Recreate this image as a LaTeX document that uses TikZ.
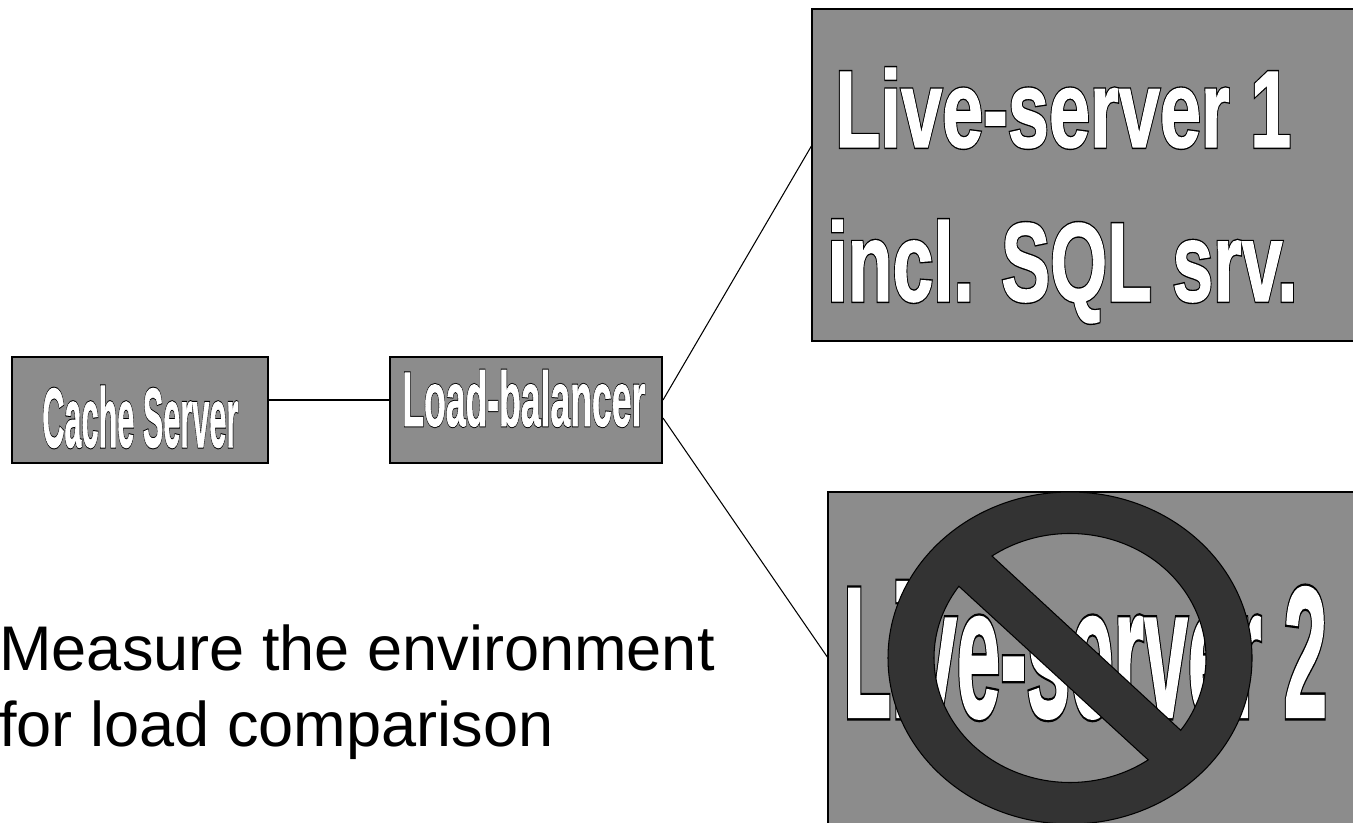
\documentclass[tikz,border=0pt]{standalone}
\usepackage{graphicx}
\usepackage{fontspec}
\setmainfont{Liberation Sans}
\definecolor{boxgray}{HTML}{8C8C8C}
\definecolor{signdark}{HTML}{333333}
\newcommand{\outlined}[3]{\resizebox{#1}{#2}{\fontsize{40}{40}\selectfont\bfseries\rlap{\special{pdf:code q 2 Tr 1.5 w 0 0 0 RG 0 0 0 rg}#3\special{pdf:code Q}}\special{pdf:code q 2 Tr 0.5 w 1 1 1 RG 1 1 1 rg}#3\special{pdf:code Q}}}
\tikzset{
  srvbox/.style={draw=black,fill=boxgray,line width=0.6pt,inner sep=0pt},
  srvtext/.style={anchor=base west,inner sep=0pt},
  plaintext/.style={anchor=base west,inner sep=0pt,font=\fontsize{35.9}{40}\selectfont},
  wire/.style={line width=0.6pt}
}
\begin{document}
\begin{tikzpicture}
\useasboundingbox (0,0) rectangle (27.06,16.44);
\clip (0,0) rectangle (27.06,16.44);
%%Boxes
\node[srvbox,minimum width=5.12cm,minimum height=2.12cm] (cache) at (2.80,8.24) {};
\node[srvbox,minimum width=5.44cm,minimum height=2.12cm] (balancer) at (10.52,8.24) {};
\node[srvbox,minimum width=11.76cm,minimum height=6.64cm] (live1) at (22.12,12.94) {};
\node[srvbox,minimum width=11.44cm,minimum height=7.36cm] (live2) at (22.28,2.92) {};
%%Wires
\coordinate (fanup) at (13.26,8.44);
\coordinate (fandown) at (13.26,8.08);
\coordinate (liveup) at (16.24,13.54);
\coordinate (livedown) at (16.56,3.28);
\coordinate (cachewire) at (5.36,8.44);
\coordinate (balancerwire) at (7.80,8.44);
\draw[wire] (cachewire) -- (balancerwire);
\draw[wire] (fanup) -- (liveup);
\draw[wire] (fandown) -- (livedown);
%%Label
\node[srvtext] (cachetext) at (0.84,7.50) {\outlined{3.92cm}{1.22cm}{Cache Server}};
\node[srvtext] (balancertext) at (8.04,7.92) {\outlined{4.86cm}{1.12cm}{Load-balancer}};
\node[srvtext] (live1text) at (16.70,13.50) {\outlined{9.12cm}{1.58cm}{Live-server 1}};
\node[srvtext] (sqltext) at (16.54,10.42) {\outlined{9.40cm}{1.62cm}{incl. SQL srv.}};
\node[srvtext] (live2text) at (16.86,2.10) {\outlined{9.68cm}{2.70cm}{Live-server 2}};
\node[plaintext] (measure) at (-0.02,3.04) {Measure the environment};
\node[plaintext] (compare) at (-0.02,1.52) {for load comparison};
%%Sign
\draw[fill=signdark,even odd rule,line width=0.6pt] (21.40,3.28) ellipse [x radius=3.64,y radius=3.32]
  (21.40,3.28) ++(125:2.72 and 2.49) arc [start angle=125,end angle=-35.5,x radius=2.72,y radius=2.49] -- cycle
  (21.40,3.28) ++(144.8:2.72 and 2.49) arc [start angle=144.8,end angle=305.1,x radius=2.72,y radius=2.49] -- cycle;
\end{tikzpicture}
\end{document}
